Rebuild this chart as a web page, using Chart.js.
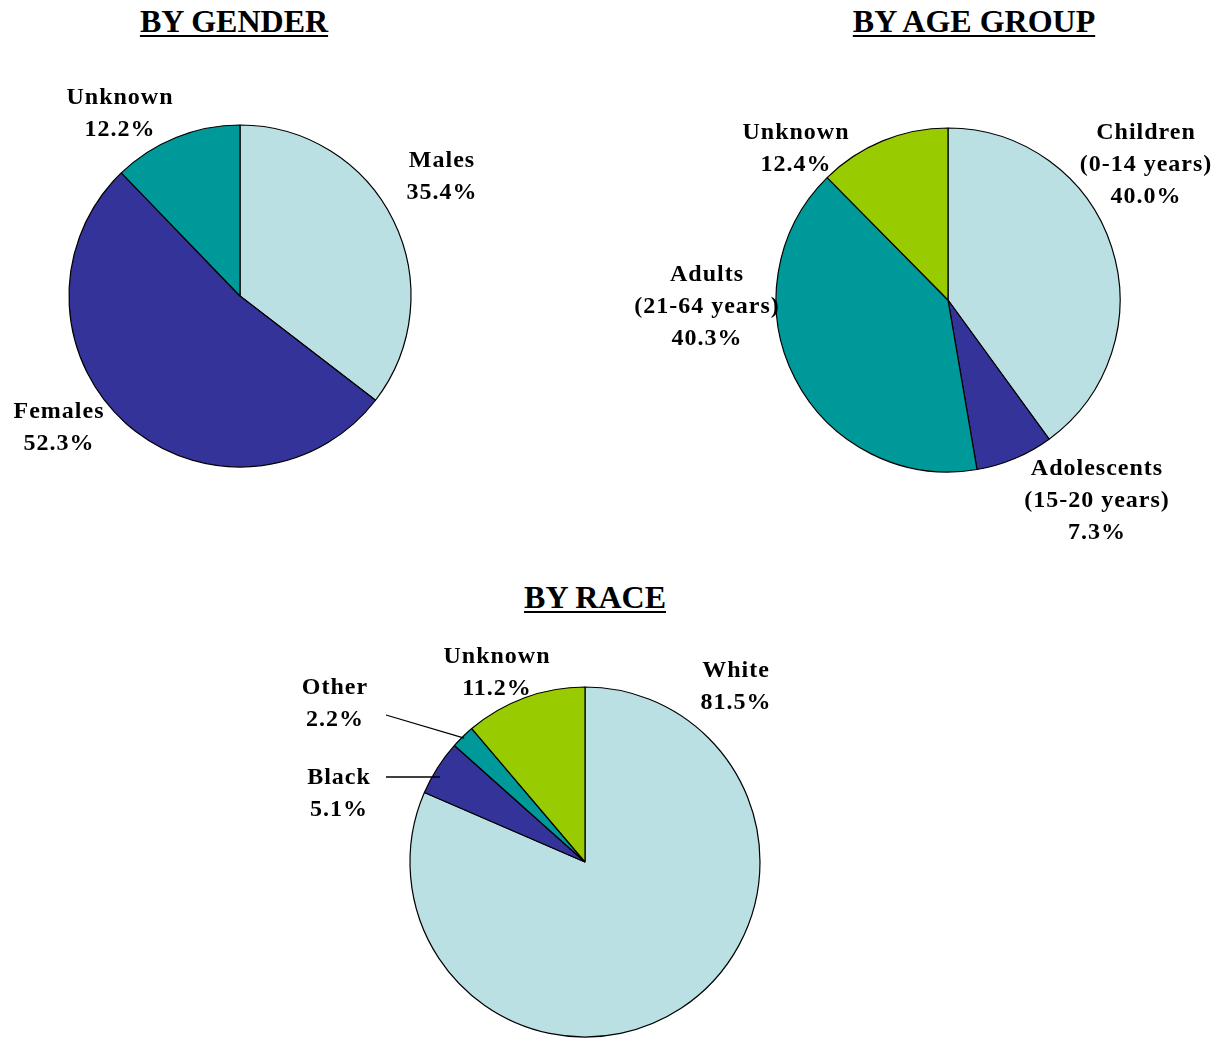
<!DOCTYPE html>
<html>
<head>
<meta charset="utf-8">
<script src="https://cdn.jsdelivr.net/npm/chart.js@4.4.1/dist/chart.umd.min.js"></script>
<style>
  html, body { margin: 0; padding: 0; width: 1220px; height: 1038px; overflow: hidden; background: #fff; }
  canvas { position: absolute; }
  .title {
    position: absolute;
    font: bold 32px "Liberation Serif", "Times New Roman", serif;
    line-height: 32px;
    white-space: nowrap;
    text-decoration: underline;
    text-decoration-thickness: 2px;
    text-underline-offset: 3px;
    transform: translateX(-50%);
    color: #000;
  }
</style>
</head>
<body>
<div class="title" style="left:234px; top:5px;">BY GENDER</div>
<div class="title" style="left:974px; top:5px;">BY AGE GROUP</div>
<div class="title" style="left:595px; top:581px;">BY RACE</div>
<canvas id="genderPie"></canvas>
<canvas id="agePie"></canvas>
<canvas id="racePie"></canvas>
<script>
// ---- data ----
const genderCategories = ['Males', 'Females', 'Unknown'];
const genderShares = [35.4, 52.3, 12.2];

const ageCategories = ['Children\n(0-14 years)', 'Adolescents\n(15-20 years)', 'Adults\n(21-64 years)', 'Unknown'];
const ageShares = [40.0, 7.3, 40.3, 12.4];

const raceCategories = ['White', 'Black', 'Other', 'Unknown'];
const raceShares = [81.5, 5.1, 2.2, 11.2];

// ---- palette ----
const LIGHT = '#BAE0E3', NAVY = '#333399', TEAL = '#009999', LIME = '#99CC00';
const genderColors = [LIGHT, NAVY, TEAL];
const ageColors = [LIGHT, NAVY, TEAL, LIME];
const raceColors = [LIGHT, NAVY, TEAL, LIME];

// ---- layout (page pixels): pie centre, radius, canvas box, label anchors ----
const genderLayout = {
  cx: 240, cy: 296, r: 171, w: 480, h: 460,
  anchors: [ { x: 442, y: 167 }, { x: 59, y: 418 }, { x: 120, y: 104 } ]
};
const ageLayout = {
  cx: 948, cy: 300, r: 172, w: 660, h: 520,
  anchors: [ { x: 1146, y: 139 }, { x: 1097, y: 475 }, { x: 707, y: 281 }, { x: 796, y: 139 } ]
};
const raceLayout = {
  cx: 585, cy: 862, r: 175, w: 600, h: 480,
  anchors: [
    { x: 736, y: 677 },
    { x: 339, y: 784, leader: { x: 386, y: 777, mode: 'level', inset: 8 } },
    { x: 335, y: 694, leader: { x: 386, y: 715, mode: 'mid', inset: 2 } },
    { x: 497, y: 663 }
  ]
};

// Writes each slice's name and share next to the pie, with optional leader lines.
const sliceLabels = {
  id: 'sliceLabels',
  afterDatasetsDraw(chart, args, opts) {
    const ctx = chart.ctx;
    const meta = chart.getDatasetMeta(0);
    const values = chart.data.datasets[0].data;
    ctx.save();
    ctx.fillStyle = '#000';
    ctx.strokeStyle = '#000';
    ctx.lineWidth = 1.3;
    ctx.font = 'bold 24px "Liberation Serif", "Times New Roman", serif';
    ctx.letterSpacing = '1px';
    ctx.textAlign = 'center';
    ctx.textBaseline = 'alphabetic';
    opts.anchors.forEach((a, i) => {
      const lines = chart.data.labels[i].split('\n').concat(values[i].toFixed(1) + '%');
      const x = a.x - opts.left, y = a.y - opts.top;
      lines.forEach((t, k) => ctx.fillText(t, x, y + k * opts.lineHeight));
      if (a.leader) {
        const arc = meta.data[i];
        const sx = a.leader.x - opts.left, sy = a.leader.y - opts.top;
        let ex, ey;
        if (a.leader.mode === 'mid') {
          const mid = (arc.startAngle + arc.endAngle) / 2;
          const rr = arc.outerRadius - a.leader.inset;
          ex = arc.x + Math.cos(mid) * rr;
          ey = arc.y + Math.sin(mid) * rr;
        } else {
          const dy = sy - arc.y;
          ex = arc.x - Math.sqrt(arc.outerRadius * arc.outerRadius - dy * dy) + a.leader.inset;
          ey = sy;
        }
        ctx.beginPath();
        ctx.moveTo(sx, sy);
        ctx.lineTo(ex, ey);
        ctx.stroke();
      }
    });
    ctx.restore();
  }
};

function drawPie(canvasId, categories, shares, colors, layout) {
  const canvas = document.getElementById(canvasId);
  const left = layout.cx - layout.w / 2;
  const top = layout.cy - layout.h / 2;
  canvas.width = layout.w;
  canvas.height = layout.h;
  canvas.style.left = left + 'px';
  canvas.style.top = top + 'px';
  return new Chart(canvas, {
    type: 'pie',
    data: {
      labels: categories,
      datasets: [{
        data: shares,
        backgroundColor: colors,
        borderColor: '#000',
        borderWidth: 1.2,
        radius: layout.r,
        hoverOffset: 0
      }]
    },
    options: {
      responsive: false,
      animation: false,
      devicePixelRatio: 1,
      layout: { padding: 0 },
      events: [],
      plugins: {
        legend: { display: false },
        tooltip: { enabled: false },
        sliceLabels: { anchors: layout.anchors, left: left, top: top, lineHeight: 32 }
      }
    },
    plugins: [sliceLabels]
  });
}

drawPie('genderPie', genderCategories, genderShares, genderColors, genderLayout);
drawPie('agePie', ageCategories, ageShares, ageColors, ageLayout);
drawPie('racePie', raceCategories, raceShares, raceColors, raceLayout);
</script>
</body>
</html>
